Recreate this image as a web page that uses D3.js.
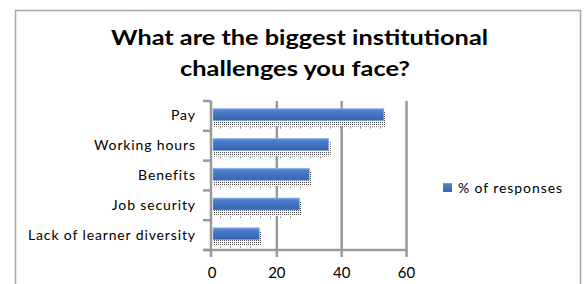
<!DOCTYPE html>
<html>
<head>
<meta charset="utf-8">
<script src="https://cdn.jsdelivr.net/npm/d3@7"></script>
<style>
html,body{margin:0;padding:0;background:#fff;}
svg{display:block;}
</style>
</head>
<body>
<svg id="chart" width="584" height="284"></svg>
<script>
const titleLines = ["What are the biggest institutional", "challenges you face?"];
const categories = ["Pay", "Working hours", "Benefits", "Job security", "Lack of learner diversity"];
const values = [53, 36, 30, 27, 14.6];
const xTicks = [0, 20, 40, 60];
const seriesName = "% of responses";

const svg = d3.select("#chart");
const FONT = "Lato, 'Open Sans', sans-serif";

// outer frame
svg.append("rect").attr("x", 15.5).attr("y", 10.5).attr("width", 565).attr("height", 300)
  .attr("fill", "none").attr("stroke", "#a6a6a6").attr("stroke-width", 1.5);

// defs
const defs = svg.append("defs");
const grad = defs.append("linearGradient").attr("id", "barGrad").attr("x1", 0).attr("y1", 0).attr("x2", 0).attr("y2", 1);
grad.append("stop").attr("offset", "0%").attr("stop-color", "#7aa2e2");
grad.append("stop").attr("offset", "18%").attr("stop-color", "#4d7fcf");
grad.append("stop").attr("offset", "100%").attr("stop-color", "#3562ad");
const pat = defs.append("pattern").attr("id", "dots").attr("width", 2).attr("height", 2).attr("patternUnits", "userSpaceOnUse");
pat.append("rect").attr("width", 2).attr("height", 2).attr("fill", "#ffffff");
pat.append("rect").attr("x", 0).attr("y", 0).attr("width", 1).attr("height", 1).attr("fill", "#444");
const pat2 = defs.append("pattern").attr("id", "sparse").attr("width", 10).attr("height", 2).attr("patternUnits", "userSpaceOnUse");
pat2.append("rect").attr("width", 1).attr("height", 2).attr("fill", "#888");

// title
const tLeft = [111, 180];
const tWidth = [377, 230];
const tBase = [44.5, 76];
titleLines.forEach((line, i) => {
  svg.append("text").attr("x", tLeft[i]).attr("y", tBase[i])
    .attr("font-family", FONT).attr("font-weight", 700)
    .attr("font-size", 21).attr("fill", "#000")
    .attr("textLength", tWidth[i]).attr("lengthAdjust", "spacingAndGlyphs").text(line);
});

// scales
const x = d3.scaleLinear().domain([0, 60]).range([212, 406.5]);
const y = d3.scaleBand().domain(categories).range([101, 250]).paddingInner(0).paddingOuter(0);
const barH = 12;
const GRID = "#9a9a9a";

// gridlines
svg.append("g").selectAll("line").data(xTicks.filter(d => d > 0)).join("line")
  .attr("x1", d => x(d)).attr("x2", d => x(d)).attr("y1", 101).attr("y2", 257)
  .attr("stroke", GRID).attr("stroke-width", 2.5);

// bars
const bars = svg.append("g");
categories.forEach((c, i) => {
  const by = y(c) + y.bandwidth() / 2 - 7.3;
  const xe = x(values[i]);
  bars.append("rect").attr("x", x(0) + 1).attr("y", by + 3).attr("width", xe - x(0) + 1).attr("height", barH + 3)
    .attr("fill", "url(#dots)");
  bars.append("rect").attr("x", x(0) + 4).attr("y", by + barH + 6.5).attr("width", xe - x(0) - 4).attr("height", 1.5)
    .attr("fill", "url(#sparse)");
  bars.append("rect").attr("x", x(0) + 1).attr("y", by).attr("width", xe - x(0) - 1).attr("height", barH)
    .attr("fill", "url(#barGrad)").attr("stroke", "#8fb0e6").attr("stroke-width", 0.6);
});

// axes
svg.append("line").attr("x1", 211).attr("x2", 211).attr("y1", 101).attr("y2", 257).attr("stroke", GRID).attr("stroke-width", 2.5);
svg.append("line").attr("x1", 203).attr("x2", 407.5).attr("y1", 250).attr("y2", 250).attr("stroke", GRID).attr("stroke-width", 2.5);
const bounds = categories.map(c => y(c)).concat([y.range()[1]]);
svg.append("g").selectAll("line").data(bounds).join("line")
  .attr("x1", 203).attr("x2", 211).attr("y1", d => d).attr("y2", d => d)
  .attr("stroke", GRID).attr("stroke-width", 2.5);

// x tick labels
svg.append("g").selectAll("text").data(xTicks).join("text")
  .attr("x", d => x(d)).attr("y", 277.5).attr("text-anchor", "middle")
  .attr("font-family", FONT).attr("font-size", 15).attr("fill", "#000").text(d => d);

// category labels
const cl = svg.append("g").selectAll("text").data(categories).join("text")
  .attr("x", 195).attr("y", d => y(d) + y.bandwidth() / 2 + 4.5).attr("text-anchor", "end")
  .attr("font-family", FONT).attr("font-size", 14).attr("fill", "#000").text(d => d);
const longest = cl.filter((d, i) => i === 4).node();
const lw = longest.getComputedTextLength();
const ls = (167 - lw) / (categories[4].length - 1);
cl.attr("letter-spacing", ls).attr("x", 195 + ls);

// legend
svg.append("rect").attr("x", 443).attr("y", 183).attr("width", 9).attr("height", 9).attr("fill", "url(#barGrad)");
const lt = svg.append("text").attr("x", 458).attr("y", 192.5).attr("font-family", FONT).attr("font-size", 14)
  .attr("fill", "#000").text(seriesName);
const ltw = lt.node().getComputedTextLength();
lt.attr("letter-spacing", (104 - ltw) / (seriesName.length - 1));
</script>
</body>
</html>
